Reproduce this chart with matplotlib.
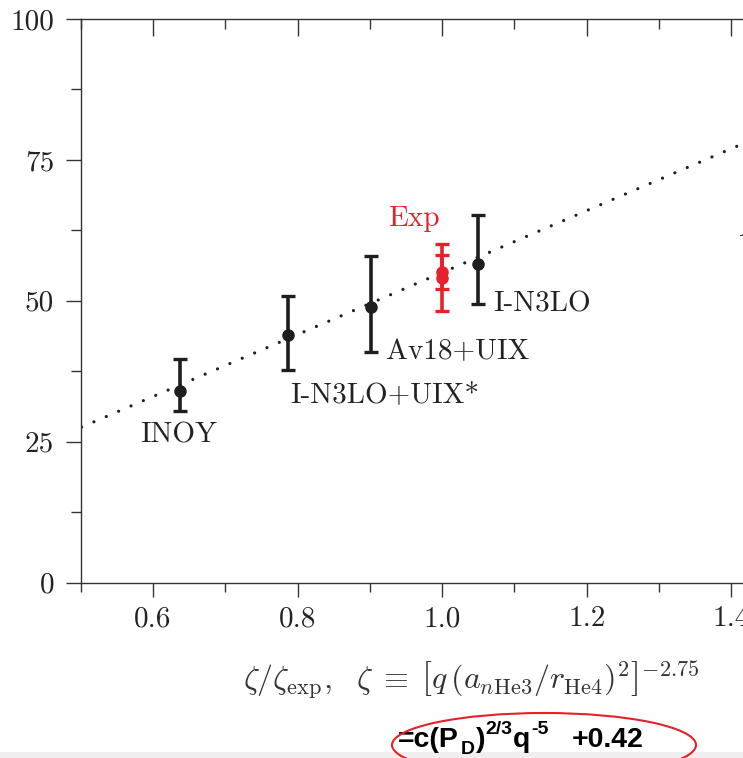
import matplotlib
matplotlib.use("Agg")
import matplotlib.pyplot as plt
from matplotlib.patches import Ellipse, Rectangle
from matplotlib.ticker import MultipleLocator

plt.rcParams['font.family'] = 'serif'
plt.rcParams['font.serif'] = ['cmr10', 'DejaVu Serif']
plt.rcParams['axes.formatter.use_mathtext'] = True
plt.rcParams['mathtext.fontset'] = 'cm'

# ---- data ----
models = ['INOY', 'I-N3LO+UIX*', 'Av18+UIX', 'I-N3LO']
model_x = [0.637, 0.787, 0.901, 1.049]
model_y = [33.9, 43.9, 48.9, 56.5]
model_lo = [30.4, 37.7, 40.9, 49.4]
model_hi = [39.6, 50.8, 58.0, 65.2]
label_xy = [(0.582, 26.1), (0.790, 33.2), (0.922, 41.0), (1.071, 49.4)]

exp_x = 1.0
exp_y = [55.1, 54.1]
exp_outer = (48.2, 60.0)
exp_inner = (52.0, 58.2)

fit_x = [0.45, 1.5]
fit_y = [24.75, 82.5]

xticks = [0.6, 0.8, 1.0, 1.2, 1.4]
xtick_labels = ['0.6', '0.8', '1.0', '1.2', '1.4']
yticks = [0, 25, 50, 75, 100]
ytick_labels = ['0', '25', '50', '75', '100']

formula_pieces = ['=c(P', 'D', ')', '2/3', 'q', '-5', '+0.42']
formula_kind = ['n', 'sub', 'n', 'sup', 'n', 'sup', 'n']
formula_gap_px = [0, 2, 1, 0, 1, 0, 24]

W, H = 743, 758
fig = plt.figure(figsize=(W / 100, H / 100), dpi=100)
ax = fig.add_axes([80.6 / W, 1 - 582.5 / H, 1 - 80.6 / W, (582.5 - 19) / H])
ax.set_xlim(0.5, 1.416)
ax.set_ylim(0, 100)

dark = '#1e1e1e'
red = '#e8202a'

ax.plot(fit_x, fit_y, color=dark, lw=2.3, linestyle=(0, (0.01, 4.2)),
        dash_capstyle='round', zorder=2)

for x, y, lo, hi in zip(model_x, model_y, model_lo, model_hi):
    ax.errorbar([x], [y], yerr=[[y - lo], [hi - y]], fmt='o', color=dark,
                ms=8, elinewidth=2.6, capsize=5, capthick=2.4, zorder=3)

ax.errorbar([exp_x], [exp_y[0]], yerr=[[exp_y[0] - exp_outer[0]], [exp_outer[1] - exp_y[0]]],
            fmt='o', color=red, ms=8, elinewidth=2.6, capsize=5, capthick=2.4, zorder=4)
ax.errorbar([exp_x], [exp_y[1]], yerr=[[exp_y[1] - exp_inner[0]], [exp_inner[1] - exp_y[1]]],
            fmt='o', color=red, ms=8, elinewidth=2.6, capsize=5, capthick=2.4, zorder=4)

fs = 21
for name, (lx, ly) in zip(models, label_xy):
    ax.text(lx, ly, name, fontsize=fs, color='#222222', ha='left', va='center')
ax.text(0.925, 64.6, 'Exp', fontsize=fs, color=red, ha='left', va='center')
ax.text(1.4107, 61.5, 'A', fontsize=fs, color='#222222', ha='left', va='baseline',
        clip_on=False)

# spines / ticks
for s in ['left', 'bottom', 'top']:
    ax.spines[s].set_linewidth(1.0)
    ax.spines[s].set_color('#333333')
ax.spines['right'].set_visible(False)

ax.set_xticks(xticks)
ax.set_xticklabels(xtick_labels)
ax.xaxis.set_minor_locator(MultipleLocator(0.1))
ax.set_yticks(yticks)
ax.set_yticklabels(ytick_labels)
ax.yaxis.set_minor_locator(MultipleLocator(12.5))
ax.tick_params(axis='x', which='major', direction='out', length=10, width=1.0,
               labelsize=fs, pad=7, colors='#333333', labelcolor='#222222')
ax.tick_params(axis='x', which='minor', direction='out', length=6.5, width=1.0,
               colors='#333333')
ax.tick_params(axis='y', which='major', direction='out', length=11, width=1.0,
               labelsize=fs, pad=8, colors='#333333', labelcolor='#222222')
ax.tick_params(axis='y', which='minor', direction='out', length=7, width=1.0,
               colors='#333333')

top = ax.secondary_xaxis('top')
top.set_xticks(xticks)
top.set_xticklabels([])
top.xaxis.set_minor_locator(MultipleLocator(0.1))
top.tick_params(axis='x', which='major', direction='in', length=12, width=1.0, colors='#333333')
top.tick_params(axis='x', which='minor', direction='in', length=7, width=1.0, colors='#333333')
top.spines['top'].set_visible(False)

fig.text(471 / W, 1 - 680 / H,
         r'$\zeta/\zeta_{\rm exp},\ \ \zeta\;\equiv\;\left[q\,\left(a_{n{\rm He3}}/r_{\rm He4}\right)^2\right]^{-2.75}$',
         fontsize=23, ha='center', va='center', color='#333333', math_fontfamily='cm')

# bottom gray band and annotation
fig.patches.append(Rectangle((0, 0), 1, (H - 752) / H, transform=fig.transFigure,
                             facecolor='#f0eeee', edgecolor='none', zorder=0))

renderer = fig.canvas.get_renderer()
base = 747.0
sizes = {'n': 20.5, 'sub': 14, 'sup': 14}
shift = {'n': 0.0, 'sub': -6.5, 'sup': 13.0}
xpos = 398.0
for piece, kind, gap in zip(formula_pieces, formula_kind, formula_gap_px):
    xpos += gap
    t = fig.text(xpos / W, 1 - (base - shift[kind]) / H, piece, fontsize=sizes[kind],
                 fontweight='bold', family='Liberation Sans', color='black',
                 ha='left', va='baseline')
    xpos += t.get_window_extent(renderer).width

fig.patches.append(Ellipse((544 / W, 1 - 745 / H), 304 / W, 64 / H,
                           transform=fig.transFigure, facecolor='none',
                           edgecolor=red, lw=1.5, zorder=5))

fig.savefig('out.png', dpi=100)
